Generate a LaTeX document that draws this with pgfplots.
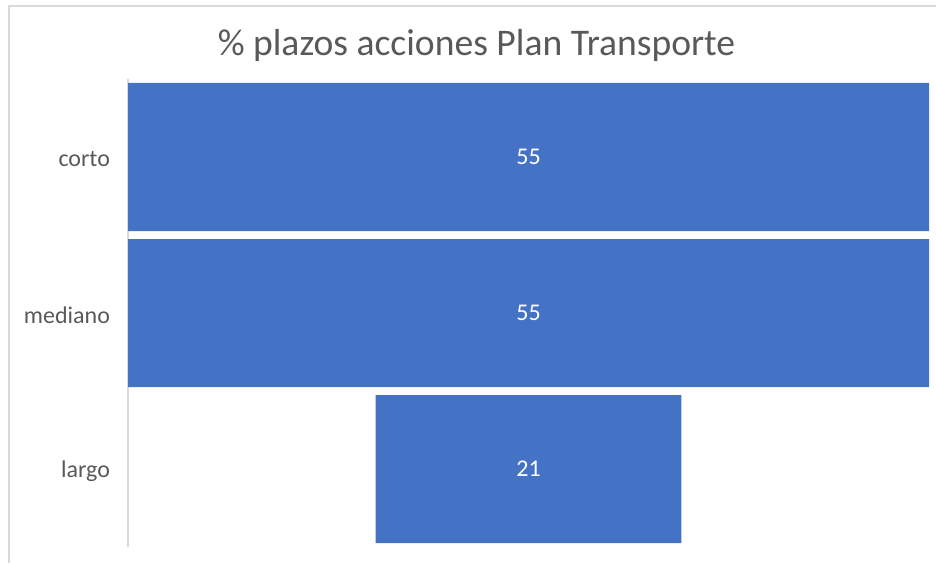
\documentclass[border=0pt]{standalone}
\usepackage{pgfplots}
\pgfplotsset{compat=1.18}
\usepackage{fontspec}
\setmainfont{Carlito}
\definecolor{barblue}{HTML}{4472C4}
\definecolor{txtgray}{HTML}{595959}
\definecolor{framegray}{HTML}{D9D9D9}

\begin{document}
\begin{tikzpicture}
% frame (only left and top edges are visible in the crop)
\draw[framegray, line width=0.75pt] (4.5pt,0pt) -- (4.5pt,278.5pt) -- (468pt,278.5pt);
\node[text=txtgray, font=\fontsize{18.8}{22}\selectfont] at (238.25pt,259pt) {\% plazos acciones Plan Transporte};

\begin{axis}[
    at={(64pt,8pt)}, anchor=south west,
    scale only axis,
    width=400.5pt, height=234pt,
    xbar stacked,
    bar width=74pt,
    xmin=0, xmax=55,
    ymin=-0.5, ymax=2.5,
    axis x line=none,
    axis y line*=left,
    y axis line style={framegray, line width=0.75pt, -},
    ytick={0,1,2},
    yticklabels={largo,mediano,corto},
    major tick length=0pt,
    yticklabel style={text=txtgray, font=\fontsize{12}{14}\selectfont, xshift=-5.5pt, yshift=-1pt},
    clip=false,
]
% invisible offset that centres each bar
\addplot[draw=none, fill=none] coordinates {(0,2) (0,1) (17,0)};
\addplot[draw=none, fill=barblue] coordinates {(55,2) (55,1) (21,0)};
\end{axis}

\begin{axis}[
    at={(64pt,8pt)}, anchor=south west,
    scale only axis,
    width=400.5pt, height=234pt,
    xmin=0, xmax=55,
    ymin=-0.5, ymax=2.5,
    hide axis,
    clip=false,
]
\addplot[draw=none, mark=none, nodes near coords, point meta=explicit symbolic,
    nodes near coords align=center,
    every node near coord/.append style={text=white, font=\fontsize{12}{14}\selectfont}]
    coordinates {(27.5,2) [55] (27.5,1) [55] (27.5,0) [21]};
\end{axis}

\pgfresetboundingbox
\path[use as bounding box] (0,0) rectangle (468pt,281.5pt);
\end{tikzpicture}
\end{document}
